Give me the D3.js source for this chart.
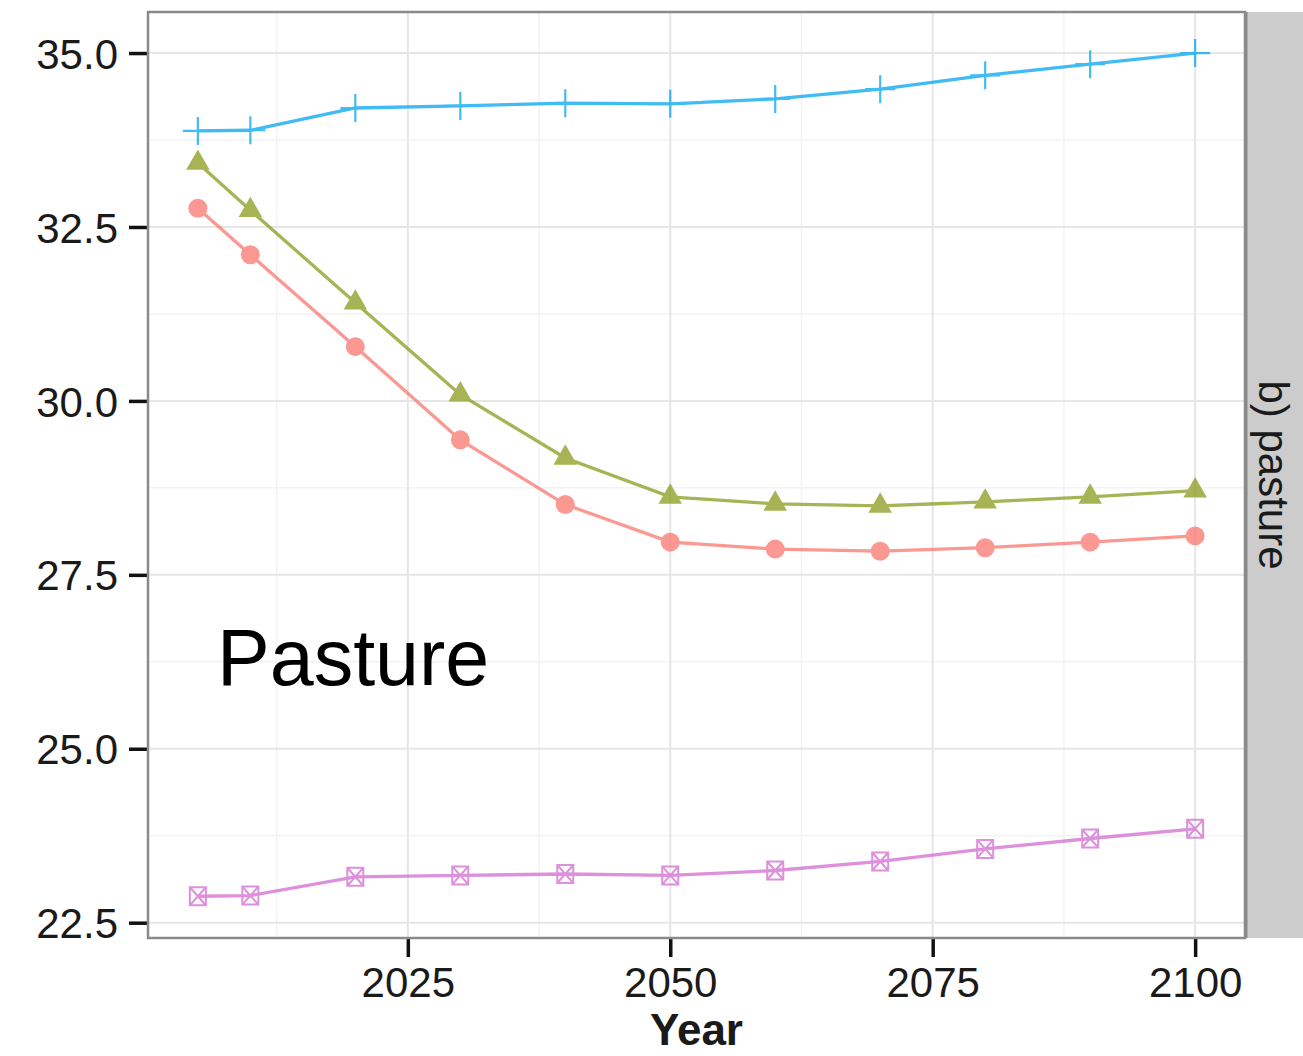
<!DOCTYPE html>
<html>
<head>
<meta charset="utf-8">
<script src="https://cdn.jsdelivr.net/npm/d3@7"></script>
<style>
  body { margin: 0; background: #fff; }
  svg { display: block; }
  text { font-family: "Liberation Sans", Arial, sans-serif; }
</style>
</head>
<body>
<svg id="svg" width="1303" height="1056"></svg>
<script>
// data
var years = [2005, 2010, 2020, 2030, 2040, 2050, 2060, 2070, 2080, 2090, 2100];
var redVals = [32.77, 32.10, 30.78, 29.44, 28.51, 27.97, 27.87, 27.84, 27.89, 27.97, 28.06];
var greenVals = [33.42, 32.74, 31.41, 30.09, 29.18, 28.62, 28.52, 28.49, 28.55, 28.62, 28.71];
var blueVals = [33.88, 33.89, 34.21, 34.24, 34.28, 34.27, 34.34, 34.48, 34.68, 34.84, 35.0];
var pinkVals = [22.88, 22.89, 23.16, 23.18, 23.20, 23.18, 23.25, 23.38, 23.56, 23.71, 23.85];
var xTicks = [2025, 2050, 2075, 2100];
var xMinor = [2012.5, 2037.5, 2062.5, 2087.5];
var yTicks = [22.5, 25.0, 27.5, 30.0, 32.5, 35.0];
var yMinor = [23.75, 26.25, 28.75, 31.25, 33.75];

var panel = {left: 148, top: 12, right: 1245, bottom: 938};

var x = d3.scaleLinear().domain([2000.25, 2104.75]).range([panel.left, panel.right]);
var y = d3.scaleLinear().domain([22.28, 35.59]).range([panel.bottom, panel.top]);

var svg = d3.select("#svg");

// strip on the right
svg.append("rect")
  .attr("x", panel.right + 2).attr("y", panel.top)
  .attr("width", 1303 - panel.right).attr("height", panel.bottom - panel.top)
  .attr("fill", "#cccccc");
svg.append("text")
  .attr("transform", "translate(1273," + ((panel.top + panel.bottom) / 2) + ") rotate(90)")
  .attr("text-anchor", "middle")
  .attr("dominant-baseline", "central")
  .attr("font-size", 42)
  .attr("fill", "#1a1a1a")
  .text("b) pasture");

// grid
var grid = svg.append("g");
grid.selectAll(".xmin").data(xMinor).enter().append("line")
  .attr("x1", d => x(d)).attr("x2", d => x(d))
  .attr("y1", panel.top).attr("y2", panel.bottom)
  .attr("stroke", "#f3f3f3").attr("stroke-width", 1.5);
grid.selectAll(".ymin").data(yMinor).enter().append("line")
  .attr("y1", d => y(d)).attr("y2", d => y(d))
  .attr("x1", panel.left).attr("x2", panel.right)
  .attr("stroke", "#f3f3f3").attr("stroke-width", 1.5);
grid.selectAll(".xmaj").data(xTicks).enter().append("line")
  .attr("x1", d => x(d)).attr("x2", d => x(d))
  .attr("y1", panel.top).attr("y2", panel.bottom)
  .attr("stroke", "#e6e6e6").attr("stroke-width", 2);
grid.selectAll(".ymaj").data(yTicks).enter().append("line")
  .attr("y1", d => y(d)).attr("y2", d => y(d))
  .attr("x1", panel.left).attr("x2", panel.right)
  .attr("stroke", "#e6e6e6").attr("stroke-width", 2);

// axes
var xAxis = svg.append("g")
  .attr("transform", "translate(0," + panel.bottom + ")")
  .call(d3.axisBottom(x).tickValues(xTicks).tickFormat(d3.format("d")).tickSize(19).tickPadding(10));
var yAxis = svg.append("g")
  .attr("transform", "translate(" + panel.left + ",0)")
  .call(d3.axisLeft(y).tickValues(yTicks).tickFormat(d3.format(".1f")).tickSize(19).tickPadding(11));
[xAxis, yAxis].forEach(function(a) {
  a.select(".domain").remove();
  a.selectAll(".tick line").attr("stroke", "#111").attr("stroke-width", 3.5);
  a.selectAll(".tick text").attr("font-size", 42).attr("fill", "#1a1a1a")
    .attr("font-family", "Liberation Sans, Arial, sans-serif");
});
yAxis.selectAll(".tick text").attr("dy", "0.36em");

// panel border
svg.append("rect")
  .attr("x", panel.left).attr("y", panel.top)
  .attr("width", panel.right - panel.left).attr("height", panel.bottom - panel.top)
  .attr("fill", "none").attr("stroke", "#8a8a8a").attr("stroke-width", 2.5);
svg.append("line")
  .attr("x1", panel.right + 1).attr("x2", panel.right + 1)
  .attr("y1", panel.top).attr("y2", panel.bottom)
  .attr("stroke", "#8a8a8a").attr("stroke-width", 3);

// series
var line = d3.line().x(d => x(d[0])).y(d => y(d[1]));
function pairs(vals) { return years.map((yr, i) => [yr, vals[i]]); }

function drawSeries(vals, color, shape) {
  var g = svg.append("g").attr("opacity", 0.75);
  g.append("path").attr("d", line(pairs(vals)))
    .attr("fill", "none").attr("stroke", color).attr("stroke-width", 3.3);
  var pts = g.selectAll(".pt").data(pairs(vals)).enter().append("g")
    .attr("transform", d => "translate(" + x(d[0]) + "," + y(d[1]) + ")");
  if (shape == "circle") {
    pts.append("circle").attr("r", 9.5).attr("fill", color);
  } else if (shape == "triangle") {
    pts.append("path").attr("d", d3.symbol(d3.symbolTriangle, 240)()).attr("fill", color);
  } else if (shape == "plus") {
    pts.append("path").attr("d", "M-15,0H15M0,-14V14")
      .attr("stroke", color).attr("stroke-width", 2.2).attr("fill", "none");
  } else if (shape == "squarecross") {
    pts.append("path").attr("d", "M-8,-9H8V9H-8ZM-8,-9L8,9M8,-9L-8,9")
      .attr("stroke", color).attr("stroke-width", 2).attr("fill", "none");
  }
}

drawSeries(blueVals, "#00A5F0", "plus");
drawSeries(greenVals, "#8A9B1E", "triangle");
drawSeries(redVals, "#F8766D", "circle");
drawSeries(pinkVals, "#D26BD0", "squarecross");

// annotation & title
svg.append("text")
  .attr("x", 217).attr("y", 685)
  .attr("font-size", 79).attr("fill", "#000")
  .text("Pasture");
svg.append("text")
  .attr("x", (panel.left + panel.right) / 2).attr("y", 1045)
  .attr("text-anchor", "middle")
  .attr("font-size", 44).attr("font-weight", "bold").attr("fill", "#1a1a1a")
  .text("Year");
</script>
</body>
</html>
